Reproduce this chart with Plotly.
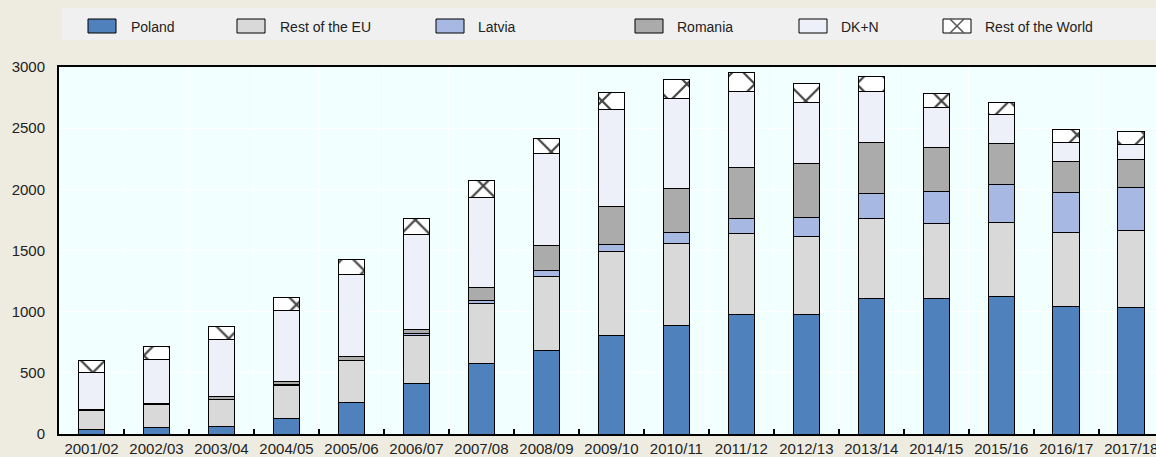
import plotly.graph_objects as go

years = ["2001/02", "2002/03", "2003/04", "2004/05", "2005/06", "2006/07",
         "2007/08", "2008/09", "2009/10", "2010/11", "2011/12", "2012/13",
         "2013/14", "2014/15", "2015/16", "2016/17", "2017/18"]

poland = [38, 52, 65, 125, 259, 415, 578, 684, 807, 891, 979, 973, 1110, 1110, 1120, 1041, 1036]
rest_eu = [158, 190, 219, 275, 338, 394, 488, 605, 687, 668, 659, 644, 654, 613, 613, 608, 629]
latvia = [0, 0, 0, 3, 5, 12, 27, 44, 57, 87, 126, 155, 201, 258, 309, 327, 352]
romania = [5, 8, 21, 25, 30, 37, 103, 212, 311, 360, 413, 438, 414, 363, 329, 250, 226]
dk_n = [303, 363, 469, 578, 668, 775, 739, 750, 793, 739, 625, 502, 417, 327, 237, 159, 126]
rest_world = [93, 104, 106, 108, 128, 125, 134, 117, 139, 149, 152, 150, 123, 115, 101, 103, 106]

series = [
    ("Poland", poland, "#4F81BD"),
    ("Rest of the EU", rest_eu, "#D9D9D9"),
    ("Latvia", latvia, "#A7B9E3"),
    ("Romania", romania, "#ABABAB"),
    ("DK+N", dk_n, "#EDF0F8"),
    ("Rest of the World", rest_world, "#FFFFFF"),
]

FONT = "Liberation Sans, Arial, sans-serif"
W, H = 1156, 457
L, R, T, B = 59, 1156, 67, 434  # plot area in pixels

fig = go.Figure()
for name, vals, color in series:
    pattern = None
    if name == "Rest of the World":
        pattern = dict(shape="x", fgcolor="#444444", bgcolor="#FFFFFF",
                       size=24, solidity=0.18, fillmode="replace")
    fig.add_trace(go.Bar(
        x=years, y=vals, name=name, width=0.41,
        marker=dict(color=color, line=dict(color="#000000", width=1),
                    pattern=pattern),
        showlegend=False,
    ))


def px_x(p):
    return (p - L) / (R - L)


def px_y(p):
    return (B - p) / (B - T)


# legend box drawn by hand so the swatches match the original layout
shapes = [dict(type="rect", xref="paper", yref="paper",
               x0=px_x(62), x1=px_x(1160), y0=px_y(40), y1=px_y(8),
               fillcolor="#F0F0F0", line=dict(width=0), layer="below")]
annotations = []
swatch_x = [88, 237, 436, 635, 799, 943]
text_x = [129, 278, 476, 675, 839, 983]
for (name, _, color), sx, tx in zip(series, swatch_x, text_x):
    shapes.append(dict(type="rect", xref="paper", yref="paper",
                       x0=px_x(sx), x1=px_x(sx + 28), y0=px_y(33), y1=px_y(19),
                       fillcolor=color, line=dict(color="#000000", width=1)))
    if name == "Rest of the World":
        for a, b in [(19, 33), (33, 19)]:
            shapes.append(dict(type="line", xref="paper", yref="paper",
                               x0=px_x(sx + 7), x1=px_x(sx + 21),
                               y0=px_y(a), y1=px_y(b),
                               line=dict(color="#555555", width=1.5)))
    annotations.append(dict(xref="paper", yref="paper", x=px_x(tx), y=px_y(26.5),
                            text=name, showarrow=False, xanchor="left",
                            yanchor="middle",
                            font=dict(family=FONT, size=14, color="#222222")))

fig.update_layout(
    width=W, height=H,
    barmode="stack",
    paper_bgcolor="#EEECE1",
    plot_bgcolor="#F2FFFF",
    margin=dict(l=L, r=W - R, t=T, b=H - B),
    font=dict(family=FONT, size=15, color="#222222"),
    showlegend=False,
    shapes=shapes,
    annotations=annotations,
    xaxis=dict(
        range=[-0.5, 16.38],
        showline=True, linecolor="#000000", linewidth=2, mirror=True,
        ticks="inside", ticklen=5, tickcolor="#000000", tickwidth=2,
        tickson="boundaries",
        showgrid=True, gridcolor="#FFFFFF", gridwidth=1,
        tickfont=dict(size=15),
        automargin=False,
    ),
    yaxis=dict(
        range=[0, 3000], dtick=500,
        showline=True, linecolor="#000000", linewidth=2,
        ticks="", showgrid=True, gridcolor="#FFFFFF", gridwidth=1,
        zeroline=False, ticklabelstandoff=9,
        tickfont=dict(size=15),
        automargin=False,
    ),
)

fig.write_html("out.html",
               config={"displayModeBar": False},
               post_script="document.body.style.margin='0';"
                           "document.body.style.overflow='hidden';")
